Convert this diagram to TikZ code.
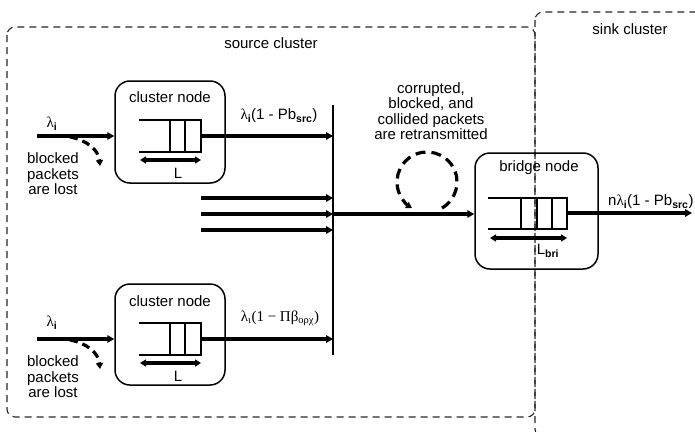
\documentclass[tikz,border=0pt]{standalone}
\usepackage{fontspec}
\setmainfont{Liberation Sans}
\newfontfamily\greekserif{Liberation Serif}
\usetikzlibrary{arrows.meta}

\tikzset{
  region/.style={draw=black!85, line width=1.1pt, dash pattern=on 7pt off 5pt, rounded corners=8pt},
  nodebox/.style={draw, line width=1.5pt, rounded corners=15pt, inner sep=0pt},
  qline/.style={line width=1.5pt},
  flow/.style={line width=3.2pt, -{Triangle[length=7pt,width=7.5pt]}},
  lenarrow/.style={line width=3.2pt, {Triangle[length=6pt,width=7pt]}-{Triangle[length=6pt,width=7pt]}},
  lossarrow/.style={line width=3.2pt, dash pattern=on 8pt off 5pt, -{Triangle[length=6pt,width=7pt]}},
  txt/.style={font=\fontsize{15}{15.5}\selectfont, inner sep=0pt, align=center},
}
\newcommand{\lam}{{\greekserif λ}}

\begin{document}
\begin{tikzpicture}[x=1pt, y=-1pt]
  \useasboundingbox (0,0) rectangle (695,431);
  \clip (0,0) rectangle (695,431);

  % cluster regions
  \draw[region] (7,27) rectangle (535,417);
  \draw[region] (535,12) rectangle (800,437);
  \node[txt] (srclabel) at (271,43) {source cluster};
  \node[txt] (sinklabel) at (630,29) {sink cluster};

  % upper cluster node
  \node[nodebox, minimum width=110pt, minimum height=102pt] (cnA) at (170,132) {};
  \node[txt] (cnAlabel) at (170,97) {cluster node};
  \draw[qline] (139,120) -- (201,120) -- (201,152) -- (139,152);
  \draw[qline] (170,120) -- (170,152) (185,120) -- (185,152);
  \coordinate (qAl) at (140,160);
  \coordinate (qAr) at (201,160);
  \draw[lenarrow] (qAl) -- (qAr);
  \node[txt] (LA) at (178,173) {L};
  \coordinate (qAout) at (201,136);

  % lower cluster node
  \node[nodebox, minimum width=110pt, minimum height=101pt] (cnB) at (170,334.5) {};
  \node[txt] (cnBlabel) at (170,301) {cluster node};
  \draw[qline] (139,323) -- (201,323) -- (201,355) -- (139,355);
  \draw[qline] (170,323) -- (170,355) (185,323) -- (185,355);
  \coordinate (qBl) at (140,363);
  \coordinate (qBr) at (201,363);
  \draw[lenarrow] (qBl) -- (qBr);
  \node[txt] (LB) at (178,376) {L};
  \coordinate (qBout) at (201,339);

  % collecting bus
  \coordinate (bustop) at (333,105);
  \coordinate (busbot) at (333,355);
  \draw[qline] (bustop) -- (busbot);
  \coordinate (junction) at (333,214);

  % inputs with losses
  \coordinate (inA) at (37,136);
  \draw[flow] (inA) -- (cnA.west |- inA);
  \node[txt] (lamA) at (52,124) {\lam\textsubscript{\textbf{i}}};
  \coordinate (lossAs) at (70,137);
  \coordinate (lossAe) at (100,166);
  \draw[lossarrow] (lossAs) to[out=-10,in=95] (lossAe);
  \node[txt] (lostA) at (53,174) {blocked\\packets\\are lost};

  \coordinate (inB) at (37,339);
  \draw[flow] (inB) -- (cnB.west |- inB);
  \node[txt] (lamB) at (52,323) {\lam\textsubscript{\textbf{i}}};
  \coordinate (lossBs) at (70,340);
  \coordinate (lossBe) at (100,369);
  \draw[lossarrow] (lossBs) to[out=-10,in=95] (lossBe);
  \node[txt] (lostB) at (53,377) {blocked\\packets\\are lost};

  % outputs into the bus
  \draw[flow] (qAout) -- (bustop |- qAout);
  \node[txt] (rateA) at (279,116) {\lam\textsubscript{\textbf{i}}(1 - Pb\textsubscript{\textbf{src}})};
  \draw[flow] (qBout) -- (bustop |- qBout);
  \node[txt, font=\greekserif\fontsize{15}{15.5}\selectfont] (rateB) at (280,318)
    {λ\textsubscript{ι}(1 − Πβ\textsubscript{ορχ})};

  % further cluster nodes
  \coordinate (m1) at (201,198);
  \coordinate (m2) at (201,214);
  \coordinate (m3) at (201,230);
  \draw[flow] (m1) -- (bustop |- m1);
  \draw[flow] (m2) -- (bustop |- m2);
  \draw[flow] (m3) -- (bustop |- m3);

  % bridge node
  \node[nodebox, minimum width=123pt, minimum height=116pt] (bridge) at (536.5,211) {};
  \node[txt] (bridgelabel) at (539,168) {bridge node};
  \draw[qline] (488,198) -- (567,198) -- (567,229) -- (488,229);
  \draw[qline] (521,198) -- (521,229) (537,198) -- (537,229) (552,198) -- (552,229);
  \coordinate (qCl) at (490,238);
  \coordinate (qCr) at (567,238);
  \draw[lenarrow] (qCl) -- (qCr);
  \node[txt] (LC) at (548,251) {L\textsubscript{\textbf{bri}}};
  \coordinate (qCout) at (567,213);
  \coordinate (sink) at (692,213);

  \draw[flow] (junction) -- (bridge.west |- junction);
  \draw[flow] (qCout) -- (sink);
  \node[txt, anchor=west] (rateC) at (608,202) {n\lam\textsubscript{\textbf{i}}(1 - Pb\textsubscript{\textbf{src}})};

  % retransmission loop
  \coordinate (loopstart) at (442,208);
  \draw[lossarrow, dash pattern=on 10pt off 6pt] (loopstart) arc[start angle=60, end angle=-240, radius=30];
  \node[txt] (retx) at (431,111) {corrupted,\\blocked, and\\collided packets\\are retransmitted};
\end{tikzpicture}
\end{document}
